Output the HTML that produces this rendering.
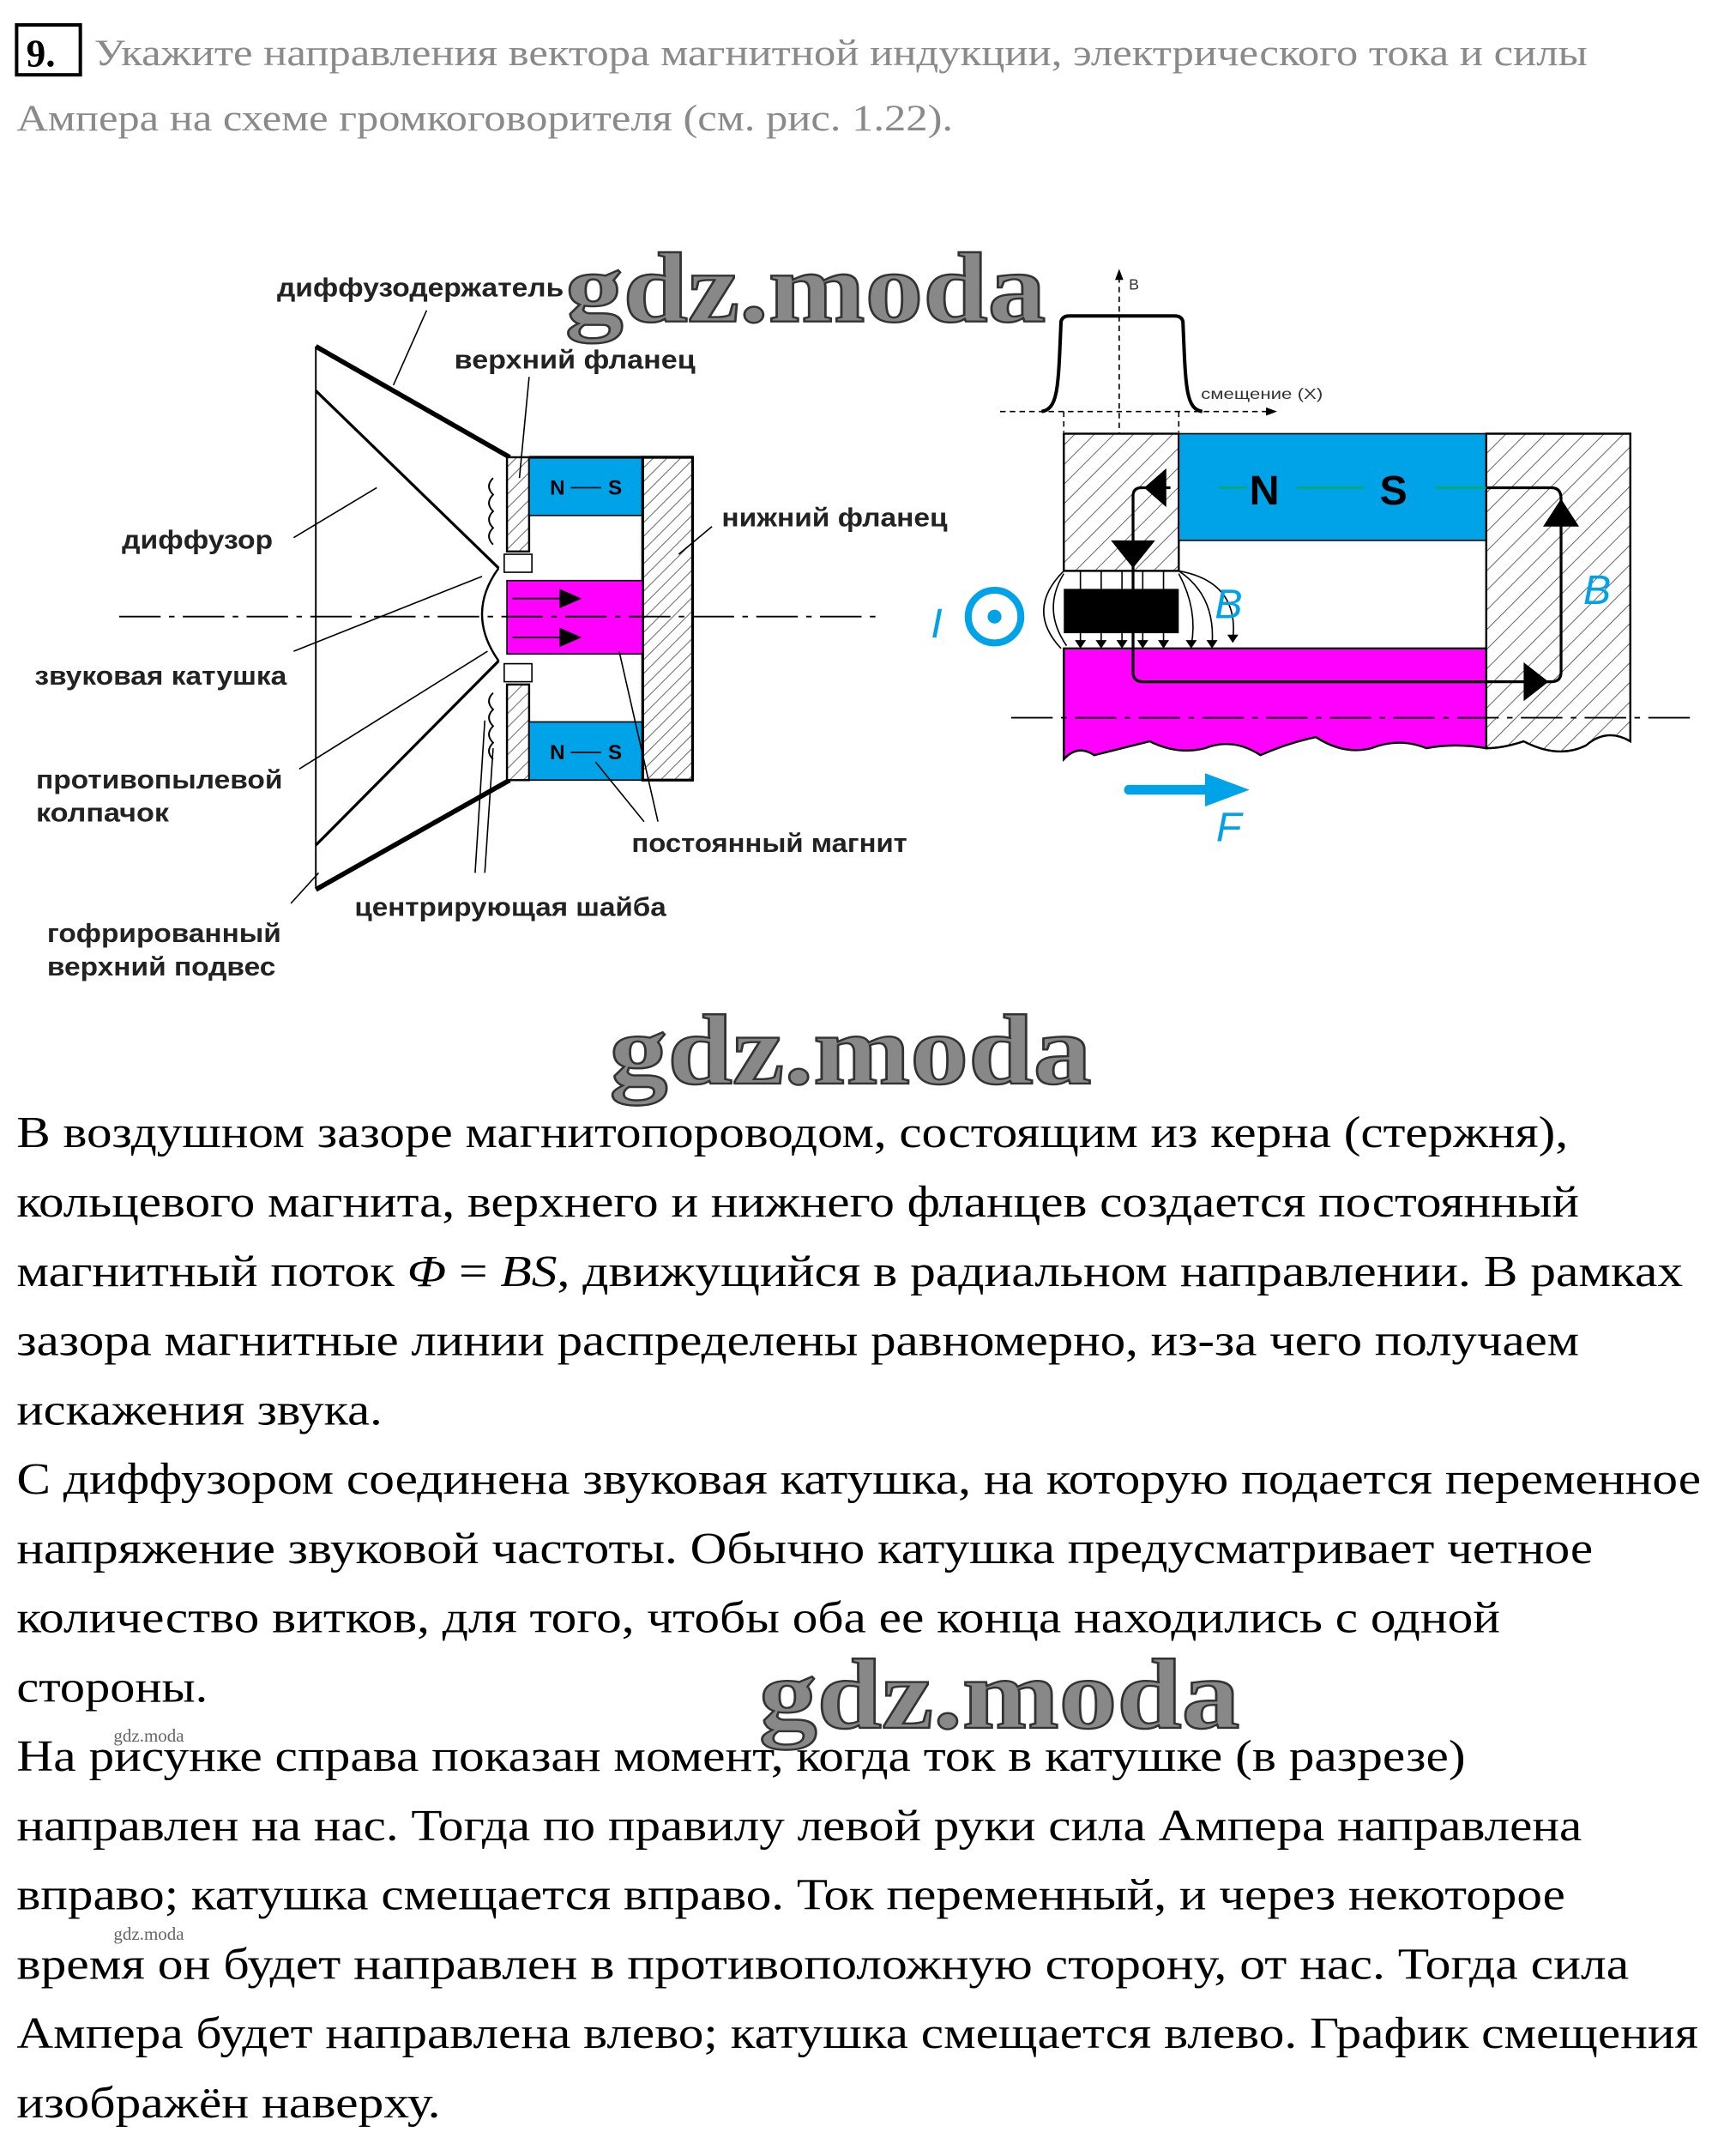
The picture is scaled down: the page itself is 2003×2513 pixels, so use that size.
<!DOCTYPE html>
<html><head><meta charset="utf-8"><style>html,body{margin:0;padding:0;background:#fff}svg{display:block}</style></head>
<body>
<svg width="2003" height="2513" viewBox="0 0 1240.3 1556" preserveAspectRatio="none" xmlns="http://www.w3.org/2000/svg">
<defs>
<pattern id="h" width="7" height="7" patternUnits="userSpaceOnUse" patternTransform="rotate(45)"><rect width="7" height="7" fill="#fff"/><line x1="0" y1="0" x2="0" y2="7" stroke="#444" stroke-width="1"/></pattern>
<pattern id="h2" width="10" height="10" patternUnits="userSpaceOnUse" patternTransform="rotate(45)"><rect width="10" height="10" fill="#fff"/><line x1="0" y1="0" x2="0" y2="10" stroke="#444" stroke-width="1"/></pattern>
</defs>
<rect width="1240.3" height="1556" fill="#fff"/>
<!-- title -->
<rect x="12" y="18" width="46" height="36" fill="none" stroke="#000" stroke-width="2.5"/>
<text x="19" y="48" font-family="Liberation Serif" font-weight="bold" font-size="28">9.</text>
<g font-family="Liberation Serif" font-size="27" fill="#8a8a8a">
<text x="68" y="47" textLength="1078" lengthAdjust="spacingAndGlyphs">Укажите направления вектора магнитной индукции, электрического тока и силы</text>
<text x="12" y="94" textLength="676" lengthAdjust="spacingAndGlyphs">Ампера на схеме громкоговорителя (см. рис. 1.22).</text>
</g>

<!-- LEFT DIAGRAM -->
<g stroke="#000" fill="none">
<line x1="228" y1="250" x2="228" y2="640" stroke-width="1.2"/>
<line x1="228" y1="250" x2="368" y2="330" stroke-width="3.5"/>
<line x1="228" y1="642" x2="368" y2="563" stroke-width="3.5"/>
<line x1="228" y1="282" x2="360" y2="410" stroke-width="2"/>
<line x1="228" y1="610" x2="360" y2="477" stroke-width="2"/>
<path d="M360 410 Q336 443 360 477" stroke-width="1.5"/>
</g>
<rect x="366" y="330" width="16" height="68" fill="url(#h)" stroke="#000" stroke-width="1.5"/>
<rect x="366" y="494" width="16" height="69" fill="url(#h)" stroke="#000" stroke-width="1.5"/>
<rect x="364" y="400" width="20" height="13" fill="#fff" stroke="#000" stroke-width="1"/>
<rect x="364" y="479" width="20" height="13" fill="#fff" stroke="#000" stroke-width="1"/>
<rect x="382" y="330" width="82" height="42" fill="#00a2e8" stroke="#000" stroke-width="1"/>
<rect x="382" y="521" width="82" height="42" fill="#00a2e8" stroke="#000" stroke-width="1"/>
<rect x="464" y="330" width="36" height="233" fill="url(#h)" stroke="#000" stroke-width="2"/>
<line x1="382" y1="330" x2="500" y2="330" stroke="#000" stroke-width="2"/>
<rect x="366" y="419" width="98" height="53" fill="#ff00ff" stroke="#000" stroke-width="1"/>
<g stroke="#000" stroke-width="1.2" fill="none">
<polyline points="370,432 410,432"/><polyline points="370,460 410,460"/>
<path d="M356 345 q-6 6 0 12 q-6 6 0 12 q-6 6 0 12 q-6 6 0 12"/>
<path d="M356 500 q-6 6 0 12 q-6 6 0 12 q-6 6 0 12 q-6 6 0 12"/>
</g>
<polygon points="404,425 420,432 404,439" fill="#000"/>
<polygon points="404,453 420,460 404,467" fill="#000"/>
<g font-family="Liberation Sans" font-weight="bold" font-size="15">
<text x="397" y="357">N</text><text x="439" y="357">S</text>
<text x="397" y="548">N</text><text x="439" y="548">S</text>
</g>
<line x1="412" y1="352" x2="434" y2="352" stroke="#000"/><line x1="412" y1="543" x2="434" y2="543" stroke="#000"/>
<line x1="86" y1="445" x2="636" y2="445" stroke="#000" stroke-width="1.2" stroke-dasharray="30,6,4,6"/>
<!-- leaders -->
<g stroke="#000" stroke-width="1" fill="none">
<line x1="308" y1="224" x2="284" y2="278"/>
<line x1="382" y1="272" x2="375" y2="345"/>
<line x1="514" y1="380" x2="490" y2="400"/>
<line x1="212" y1="388" x2="272" y2="352"/>
<line x1="212" y1="470" x2="348" y2="416"/>
<line x1="216" y1="555" x2="352" y2="470"/>
<line x1="210" y1="652" x2="230" y2="630"/>
<line x1="343" y1="630" x2="350" y2="520"/>
<line x1="350" y1="630" x2="356" y2="540"/>
<line x1="465" y1="593" x2="430" y2="550"/>
<line x1="475" y1="593" x2="447" y2="470"/>
</g>
<g font-family="Liberation Sans" font-weight="bold" font-size="19" fill="#222">
<text x="200" y="214" textLength="207" lengthAdjust="spacingAndGlyphs">диффузодержатель</text>
<text x="328" y="266" textLength="174" lengthAdjust="spacingAndGlyphs">верхний фланец</text>
<text x="521" y="380" textLength="163" lengthAdjust="spacingAndGlyphs">нижний фланец</text>
<text x="88" y="396" textLength="109" lengthAdjust="spacingAndGlyphs">диффузор</text>
<text x="25" y="494" textLength="182" lengthAdjust="spacingAndGlyphs">звуковая катушка</text>
<text x="26" y="569" textLength="178" lengthAdjust="spacingAndGlyphs">противопылевой</text>
<text x="26" y="593" textLength="96" lengthAdjust="spacingAndGlyphs">колпачок</text>
<text x="456" y="615" textLength="199" lengthAdjust="spacingAndGlyphs">постоянный магнит</text>
<text x="256" y="661" textLength="225" lengthAdjust="spacingAndGlyphs">центрирующая шайба</text>
<text x="34" y="680" textLength="169" lengthAdjust="spacingAndGlyphs">гофрированный</text>
<text x="34" y="704" textLength="165" lengthAdjust="spacingAndGlyphs">верхний подвес</text>
</g>

<!-- RIGHT DIAGRAM -->
<g stroke="#000" stroke-width="1" fill="none" stroke-dasharray="4,3">
<line x1="808" y1="200" x2="808" y2="412"/>
<line x1="722" y1="297" x2="915" y2="297"/>
<line x1="768" y1="297" x2="768" y2="312"/>
<line x1="851" y1="297" x2="851" y2="312"/>
</g>
<polygon points="805,202 808,194 811,202" fill="#000"/>
<polygon points="914,294 922,297 914,300" fill="#000"/>
<path d="M752 297 C764 295 764 280 766 232 Q767 228 772 228 L848 228 Q853 228 854 232 C856 280 856 295 868 297" stroke="#000" stroke-width="2.5" fill="none"/>
<text x="815" y="209" font-family="Liberation Sans" font-size="11" fill="#333">B</text>
<text x="867" y="288" font-family="Liberation Sans" font-size="11" fill="#333" textLength="88" lengthAdjust="spacingAndGlyphs">смещение (X)</text>
<rect x="768" y="313" width="83" height="99" fill="url(#h2)" stroke="#000" stroke-width="1.5"/>
<rect x="851" y="313" width="222" height="77" fill="#00a2e8" stroke="#000" stroke-width="1"/>
<path d="M1073 313 L1177 313 L1177 535 Q1160 525 1145 538 Q1125 548 1100 535 Q1085 540 1073 540 Z" fill="url(#h2)" stroke="#000" stroke-width="1.5"/>
<path d="M768 468 L1073 468 L1073 540 Q1050 536 1030 540 Q1010 532 990 540 Q970 545 950 532 Q930 536 910 545 Q890 532 870 540 Q850 545 830 535 Q810 540 790 545 Q778 537 768 548 Z" fill="#ff00ff" stroke="#000" stroke-width="1.5"/>
<rect x="768" y="425" width="83" height="32" fill="#000"/>
<g stroke="#000" stroke-width="1" fill="none">
<line x1="768" y1="412" x2="851" y2="412"/>
<line x1="780" y1="412" x2="780" y2="425"/><line x1="795" y1="412" x2="795" y2="425"/><line x1="810" y1="412" x2="810" y2="425"/><line x1="825" y1="412" x2="825" y2="425"/><line x1="840" y1="412" x2="840" y2="425"/>
<line x1="780" y1="457" x2="780" y2="466"/><line x1="795" y1="457" x2="795" y2="466"/><line x1="810" y1="457" x2="810" y2="466"/><line x1="825" y1="457" x2="825" y2="466"/><line x1="840" y1="457" x2="840" y2="466"/>
<path d="M768 412 Q740 440 766 468"/><path d="M768 414 Q752 440 770 466"/>
<path d="M851 412 Q878 430 875 466"/><path d="M851 412 Q895 420 890 462"/><path d="M851 414 Q865 440 860 466"/>
</g>
<g fill="#000">
<polygon points="776,462 780,468 784,462"/><polygon points="791,462 795,468 799,462"/><polygon points="806,462 810,468 814,462"/><polygon points="821,462 825,468 829,462"/><polygon points="836,462 840,468 844,462"/><polygon points="856,462 860,468 864,462"/><polygon points="871,462 875,468 879,462"/><polygon points="886,458 890,464 894,458"/>
</g>
<g stroke="#0a6" stroke-width="1.5"><line x1="880" y1="352" x2="900" y2="352"/><line x1="936" y1="352" x2="985" y2="352"/><line x1="1036" y1="352" x2="1073" y2="352"/></g>
<g stroke="#000" stroke-width="2" fill="none">
<path d="M845 352 L824 352 Q818 352 818 358 L818 485 Q818 492 825 492 L1120 492 Q1127 492 1127 485 L1127 360 Q1127 352 1120 352 L1073 352"/>
</g>
<polygon points="826,352 842,338 842,366" fill="#000"/>
<polygon points="802,390 834,390 818,410" fill="#000"/>
<polygon points="1114,380 1140,380 1127,360" fill="#000"/>
<polygon points="1100,478 1118,492 1100,506" fill="#000"/>
<g font-family="Liberation Sans" font-weight="bold" font-size="30" fill="#000">
<text x="902" y="364">N</text><text x="996" y="364">S</text>
</g>
<line x1="730" y1="518" x2="1225" y2="518" stroke="#000" stroke-width="1.2" stroke-dasharray="30,6,4,6"/>
<circle cx="718" cy="445" r="19" fill="none" stroke="#00a2e8" stroke-width="5"/>
<circle cx="718" cy="445" r="5" fill="#00a2e8"/>
<g font-family="Liberation Sans" font-style="italic" font-size="30" fill="#00a2e8">
<text x="672" y="460">I</text><text x="877" y="446">B</text><text x="1143" y="436">B</text><text x="878" y="607">F</text>
</g>
<path d="M815 570 L880 570" stroke="#00a2e8" stroke-width="7" stroke-linecap="round"/>
<polygon points="870,558 902,570 870,582" fill="#00a2e8"/>

<!-- watermarks -->
<g font-family="Liberation Serif" font-weight="bold" fill="#888" stroke="#333" stroke-width="1.5">
<text x="408" y="232" font-size="72" textLength="347" lengthAdjust="spacingAndGlyphs">gdz.moda</text>
<text x="440" y="782" font-size="72" textLength="348" lengthAdjust="spacingAndGlyphs">gdz.moda</text>
<text x="548" y="1247" font-size="72" textLength="347" lengthAdjust="spacingAndGlyphs">gdz.moda</text>
</g>
<g font-family="Liberation Serif" font-size="13" fill="#666">
<text x="82" y="1257">gdz.moda</text><text x="82" y="1400">gdz.moda</text>
</g>

<!-- body -->
<g font-family="Liberation Serif" font-size="32" fill="#000">
<text x="12" y="828" textLength="1120" lengthAdjust="spacingAndGlyphs">В воздушном зазоре магнитопороводом, состоящим из керна (стержня),</text>
<text x="12" y="878" textLength="1128" lengthAdjust="spacingAndGlyphs">кольцевого магнита, верхнего и нижнего фланцев создается постоянный</text>
<text x="12" y="928" textLength="1203" lengthAdjust="spacingAndGlyphs">магнитный поток <tspan font-style="italic">Φ</tspan> = <tspan font-style="italic">BS</tspan>, движущийся в радиальном направлении. В рамках</text>
<text x="12" y="978" textLength="1128" lengthAdjust="spacingAndGlyphs">зазора магнитные линии распределены равномерно, из-за чего получаем</text>
<text x="12" y="1028" textLength="264" lengthAdjust="spacingAndGlyphs">искажения звука.</text>
<text x="12" y="1078" textLength="1216" lengthAdjust="spacingAndGlyphs">С диффузором соединена звуковая катушка, на которую подается переменное</text>
<text x="12" y="1128" textLength="1138" lengthAdjust="spacingAndGlyphs">напряжение звуковой частоты. Обычно катушка предусматривает четное</text>
<text x="12" y="1178" textLength="1071" lengthAdjust="spacingAndGlyphs">количество витков, для того, чтобы оба ее конца находились с одной</text>
<text x="12" y="1228" textLength="138" lengthAdjust="spacingAndGlyphs">стороны.</text>
<text x="12" y="1278" textLength="1046" lengthAdjust="spacingAndGlyphs">На рисунке справа показан момент, когда ток в катушке (в разрезе)</text>
<text x="12" y="1328" textLength="1130" lengthAdjust="spacingAndGlyphs">направлен на нас. Тогда по правилу левой руки сила Ампера направлена</text>
<text x="12" y="1378" textLength="1118" lengthAdjust="spacingAndGlyphs">вправо; катушка смещается вправо. Ток переменный, и через некоторое</text>
<text x="12" y="1428" textLength="1164" lengthAdjust="spacingAndGlyphs">время он будет направлен в противоположную сторону, от нас. Тогда сила</text>
<text x="12" y="1478" textLength="1214" lengthAdjust="spacingAndGlyphs">Ампера будет направлена влево; катушка смещается влево. График смещения</text>
<text x="12" y="1528" textLength="306" lengthAdjust="spacingAndGlyphs">изображён наверху.</text>
</g>
</svg>
</body></html>
